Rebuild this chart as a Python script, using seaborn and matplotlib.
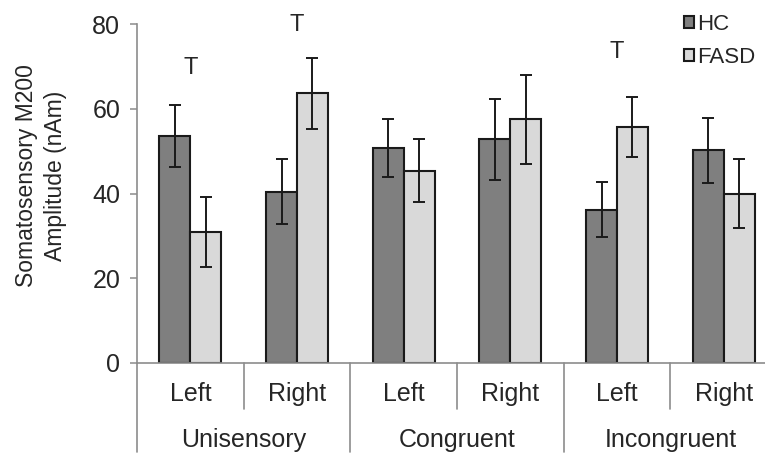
import matplotlib
matplotlib.use("Agg")
import matplotlib.pyplot as plt
import matplotlib.transforms as mtransforms
from matplotlib.lines import Line2D
import seaborn as sns
import pandas as pd

# Conditions (outer level) and stimulated side (inner level)
conditions = ["Unisensory", "Congruent", "Incongruent"]
sides = ["Left", "Right"]
groups = ["HC", "FASD"]

# Mean M200 amplitude (nAm) and standard error per group
hc_mean = [53.6, 40.4, 50.8, 52.8, 36.2, 50.2]
hc_err = [7.4, 7.7, 6.8, 9.5, 6.4, 7.7]
fasd_mean = [30.9, 63.6, 45.4, 57.5, 55.7, 40.0]
fasd_err = [8.2, 8.4, 7.4, 10.5, 7.0, 8.1]

# Trend markers: category index and height (nAm)
trend_idx = [0, 1, 4]
trend_y = [69.6, 79.7, 73.3]
trend_label = "T"

cells = [f"{c} {s}" for c in conditions for s in sides]
df = pd.DataFrame({
    "cell": cells * 2,
    "group": ["HC"] * len(cells) + ["FASD"] * len(cells),
    "amp": hc_mean + fasd_mean,
})

sns.set_theme(style="white")
plt.rcParams["font.family"] = ["Liberation Sans", "DejaVu Sans"]
text_col = "#262626"
axis_col = "#8c8c8c"

fig = plt.figure(figsize=(7.65, 4.58), dpi=100)
W, H = 765, 458
ax_left, ax_right, ax_top, ax_bot = 137, 777, 24, 363
ax = fig.add_axes([ax_left / W, 1 - ax_bot / H, (ax_right - ax_left) / W, (ax_bot - ax_top) / H])

palette = {"HC": "#7f7f7f", "FASD": "#d9d9d9"}
sns.barplot(data=df, x="cell", y="amp", hue="group", order=cells, hue_order=groups,
            palette=palette, width=0.58, errorbar=None, edgecolor="#1a1a1a",
            linewidth=1.5, saturation=1, ax=ax, legend=True)

# Error bars on top of each bar
for cont, errs in zip(ax.containers, [hc_err, fasd_err]):
    xs = [p.get_x() + p.get_width() / 2 for p in cont.patches]
    ys = [p.get_height() for p in cont.patches]
    ax.errorbar(xs, ys, yerr=errs, fmt="none", ecolor="#1a1a1a", elinewidth=1.4,
                capsize=4, capthick=1.4, zorder=5)

for i, y in zip(trend_idx, trend_y):
    ax.text(i, y, trend_label, ha="center", va="center", fontsize=17, color=text_col)

ax.set_ylim(0, 80)
ax.set_xlim(-0.5, len(cells) - 0.5)
ax.set_yticks([0, 20, 40, 60, 80])
ax.tick_params(axis="y", length=5, width=1.1, color=axis_col, labelsize=18,
               labelcolor=text_col, pad=7, left=True)
ax.set_xticks([])
ax.set_xlabel("")
ax.set_ylabel("")
for s in ["top", "right"]:
    ax.spines[s].set_visible(False)
for s in ["left", "bottom"]:
    ax.spines[s].set_color(axis_col)
    ax.spines[s].set_linewidth(1.2)

# Two-level category axis
trans = mtransforms.blended_transform_factory(ax.transData, ax.transAxes)
for i, cell in enumerate(cells):
    side = cell.split(" ")[1]
    ax.text(i, -0.09, side, transform=trans, ha="center", va="center",
            fontsize=18, color=text_col, clip_on=False)
for j, c in enumerate(conditions):
    ax.text(2 * j + 0.5, -0.226, c, transform=trans, ha="center", va="center",
            fontsize=18, color=text_col, clip_on=False)
for j in range(len(conditions)):
    xb = 2 * j + 0.5
    ax.add_line(Line2D([xb, xb], [0, -0.137], transform=trans, color=axis_col,
                       lw=1.2, clip_on=False))
for j in range(len(conditions) + 1):
    xb = 2 * j - 0.5
    ax.add_line(Line2D([xb, xb], [0, -0.263], transform=trans, color=axis_col,
                       lw=1.2, clip_on=False))

fig.text(41 / W, 1 - 176 / H, "Somatosensory M200\nAmplitude (nAm)", rotation=90,
         ha="center", va="center", fontsize=16.5, color=text_col, linespacing=1.35)

leg = ax.legend(loc="upper left", bbox_to_anchor=(684 / W, 1 - 14 / H),
                bbox_transform=fig.transFigure, frameon=False, fontsize=16,
                handlelength=0.45, handleheight=0.45, handletextpad=0.15,
                labelspacing=0.55, borderpad=0, borderaxespad=0)
for t in leg.get_texts():
    t.set_color(text_col)

fig.savefig("out.png", dpi=100)
